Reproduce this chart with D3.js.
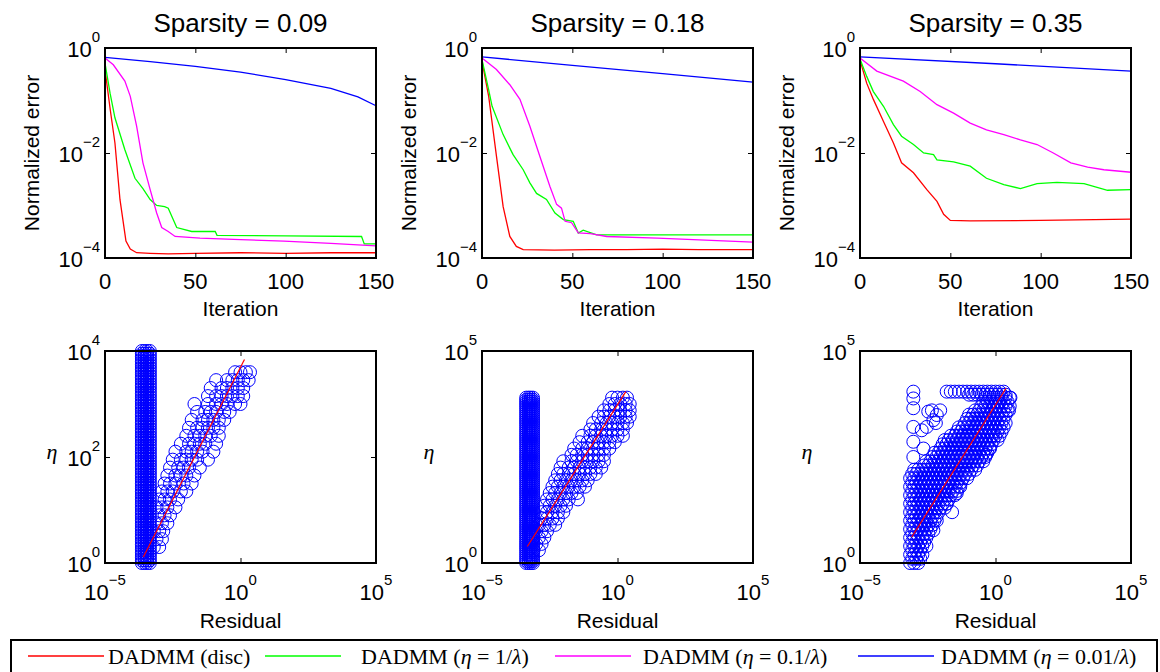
<!DOCTYPE html>
<html>
<head>
<meta charset="utf-8">
<script src="https://cdn.jsdelivr.net/npm/d3@7"></script>
<style>
body { margin: 0; background: #fff; }
svg { display: block; }
</style>
</head>
<body>
<svg id="chart" width="1160" height="672"></svg>
<script>
var sans = "'Liberation Sans', Arial, sans-serif";
var serif = "'Liberation Serif', 'Times New Roman', serif";

var panelLeft = [105, 482, 860];
var plotW = 271;
var topY = 48, topH = 210;
var botY = 351, botH = 212;

var sparsity = ["0.09", "0.18", "0.35"];
var iterTicks = [0, 50, 100, 150];
var errTicks = [1e-4, 1e-2, 1];
var resTicks = [1e-5, 1, 1e5];
var etaTicks = [[1, 1e2, 1e4], [1, 1e5], [1, 1e5]];
var etaMax = [1e4, 1e5, 1e5];

var seriesColors = ["#ff0000", "#00ff00", "#ff00ff", "#0000ff"];
var legendEta = [null, "1", "0.1", "0.01"];
var legendLineX = [28, 265, 555, 858];
var legendTextX = [108, 361, 643, 941];

// ---- convergence curves (iteration, normalized error)
// sparsity 0.09
var it09Disc = [0, 3, 5.5, 8.3, 11.6, 14, 17.5, 25, 35, 50, 75, 100, 125, 150];
var err09Disc = [0.389, 0.063, 0.0155, 0.00129, 0.00021, 0.000148, 0.000126, 0.000123, 0.00012, 0.000123, 0.000126, 0.000123, 0.000126, 0.000126];
var it09Eta1 = [0, 2.8, 5.5, 11, 16.6, 21, 25, 28.6, 33, 35, 39.7, 48, 61, 62, 100, 142, 143.5, 150];
var err09Eta1 = [0.513, 0.138, 0.0468, 0.0115, 0.0033, 0.0021, 0.0013, 0.001, 0.00095, 0.00089, 0.00038, 0.00032, 0.00032, 0.00027, 0.000263, 0.000257, 0.000186, 0.000186];
var it09Eta01 = [0, 4.6, 11, 14, 17.5, 21, 25, 28.6, 31.4, 35, 38.8, 52.6, 75, 99, 125, 150];
var err09Eta01 = [0.646, 0.479, 0.234, 0.120, 0.0324, 0.0065, 0.0020, 0.00072, 0.00038, 0.00032, 0.000257, 0.00024, 0.000224, 0.00021, 0.00019, 0.00017];
var it09Eta001 = [0, 25, 50, 75, 100, 125, 140, 150];
var err09Eta001 = [0.661, 0.550, 0.447, 0.347, 0.251, 0.170, 0.117, 0.0794];

// sparsity 0.18
var it18Disc = [0, 3.7, 8, 11.7, 15.4, 19, 22.8, 40, 60, 80, 100, 120, 150];
var err18Disc = [0.562, 0.120, 0.0087, 0.00095, 0.000257, 0.000166, 0.000145, 0.000141, 0.000145, 0.000145, 0.000148, 0.000145, 0.000145];
var it18Eta1 = [0, 3.7, 5.6, 11.7, 17.2, 22.8, 26.5, 30.2, 35.7, 40.4, 45, 50.5, 53.3, 56, 63.5, 150];
var err18Eta1 = [0.603, 0.16, 0.0776, 0.0224, 0.0093, 0.0048, 0.0027, 0.0017, 0.0013, 0.00072, 0.00054, 0.0005, 0.0003, 0.00034, 0.000275, 0.000275];
var it18Eta01 = [0, 8, 15.4, 21, 26.5, 32, 37.6, 41.3, 44, 46, 49.6, 53.3, 60, 69, 97, 150];
var err18Eta01 = [0.646, 0.389, 0.200, 0.105, 0.0324, 0.0087, 0.0023, 0.00105, 0.00089, 0.0005, 0.00047, 0.0003, 0.00029, 0.000257, 0.00024, 0.0002];
var it18Eta001 = [0, 50, 100, 150];
var err18Eta001 = [0.676, 0.468, 0.324, 0.224];

// sparsity 0.35
var it35Disc = [0, 3.7, 7.4, 13, 18.5, 23, 29.6, 37, 42.6, 46.3, 50, 61, 100, 150];
var err35Disc = [0.589, 0.214, 0.105, 0.0398, 0.0155, 0.0065, 0.0042, 0.0020, 0.0012, 0.00068, 0.00052, 0.00051, 0.00052, 0.00055];
var it35Eta1 = [0, 3.7, 7.4, 13, 18.5, 23, 29.6, 35.2, 40.7, 42.6, 51.8, 61, 70, 79.6, 88.8, 98, 109, 124, 137, 150];
var err35Eta1 = [0.617, 0.288, 0.148, 0.0776, 0.0347, 0.0209, 0.0145, 0.01, 0.0093, 0.0074, 0.0068, 0.0056, 0.0033, 0.0025, 0.0021, 0.0026, 0.00275, 0.0026, 0.00195, 0.0020];
var it35Eta01 = [0, 9.3, 24, 33.3, 42.6, 51.8, 61, 70, 79.6, 88.8, 98, 107, 116.7, 126, 135, 150];
var err35Eta01 = [0.646, 0.363, 0.234, 0.148, 0.0832, 0.0575, 0.0372, 0.0275, 0.0224, 0.0178, 0.0145, 0.01, 0.0065, 0.0054, 0.0048, 0.0043];
var it35Eta001 = [0, 75, 150];
var err35Eta001 = [0.676, 0.501, 0.363];

// ---- eta vs residual scatter
// dense vertical columns: every listed eta at every listed residual
var col09Eta = [1, 1.12, 1.26, 1.41, 1.58, 1.78, 2, 2.24, 2.51, 2.82, 3.16, 3.55, 3.98, 4.47, 5.01, 5.62, 6.31, 7.08, 7.94, 8.91,
  10, 11.2, 12.6, 14.1, 15.8, 17.8, 20, 22.4, 25.1, 28.2, 31.6, 35.5, 39.8, 44.7, 50.1, 56.2, 63.1, 70.8, 79.4, 89.1,
  100, 112, 126, 141, 158, 178, 200, 224, 251, 282, 316, 355, 398, 447, 501, 562, 631, 708, 794, 891,
  1000, 1120, 1260, 1410, 1580, 1780, 2000, 2240, 2510, 2820, 3160, 3550, 3980, 4470, 5010, 5620, 6310, 7080, 7940, 8910, 10000];
var col09Res = [2.3e-4, 2.9e-4, 3.6e-4, 4.5e-4];
var col18Eta = [1, 1.12, 1.26, 1.41, 1.58, 1.78, 2, 2.24, 2.51, 2.82, 3.16, 3.55, 3.98, 4.47, 5.01, 5.62, 6.31, 7.08, 7.94, 8.91,
  10, 11.2, 12.6, 14.1, 15.8, 17.8, 20, 22.4, 25.1, 28.2, 31.6, 35.5, 39.8, 44.7, 50.1, 56.2, 63.1, 70.8, 79.4, 89.1,
  100, 112, 126, 141, 158, 178, 200, 224, 251, 282, 316, 355, 398, 447, 501, 562, 631, 708, 794, 891,
  1000, 1120, 1260, 1410, 1580, 1780, 2000, 2240, 2510, 2820, 3160, 3550, 3980, 4470, 5010, 5620, 6310, 7080, 7940];
var col18Res = [4.3e-4, 5.3e-4, 6.3e-4, 7.6e-4];

// clouds, one row per eta: [eta, [residuals...]]
var sc09Rows = [
  [2, [6.3e-4, 1e-3]],
  [2.82, [7.94e-4, 1.26e-3]],
  [3.98, [6.31e-4, 1e-3, 1.41e-3]],
  [5.62, [7.94e-4, 1.26e-3, 2e-3]],
  [7.94, [1e-3, 1.58e-3, 2.51e-3]],
  [11.2, [7.94e-4, 1.26e-3, 2e-3, 3.98e-3]],
  [15.8, [1e-3, 1.58e-3, 2.51e-3, 5.01e-3]],
  [22.4, [1.26e-3, 2e-3, 3.16e-3, 6.31e-3, 1e-2]],
  [31.6, [1.58e-3, 2.51e-3, 3.98e-3, 7.94e-3, 1.58e-2]],
  [44.7, [2e-3, 3.98e-3, 6.31e-3, 1e-2, 2e-2]],
  [63.1, [2.51e-3, 5.01e-3, 7.94e-3, 1.26e-2, 3.16e-2]],
  [89.1, [3.16e-3, 6.31e-3, 1e-2, 1.58e-2, 2.51e-2, 6.31e-2]],
  [126, [3.98e-3, 1e-2, 1.58e-2, 2.51e-2, 3.98e-2, 0.1]],
  [178, [6.31e-3, 1.26e-2, 2e-2, 3.16e-2, 5.01e-2, 0.126]],
  [251, [1e-2, 2e-2, 3.16e-2, 5.01e-2, 7.94e-2, 0.158]],
  [355, [1.26e-2, 2.51e-2, 3.98e-2, 6.31e-2, 0.1, 0.158]],
  [501, [1.58e-2, 3.98e-2, 6.31e-2, 0.1, 0.158, 0.251]],
  [708, [2.51e-2, 5.01e-2, 7.94e-2, 0.126, 0.251, 0.398]],
  [1000, [2e-2, 6.31e-2, 0.126, 0.2, 0.316, 0.631, 1]],
  [1410, [6.31e-2, 0.126, 0.2, 0.316, 0.501, 0.794, 1.26]],
  [2000, [7.94e-2, 0.2, 0.316, 0.501, 0.794, 1.26]],
  [2820, [0.126, 0.316, 0.501, 0.794, 1.26, 2]],
  [3980, [0.631, 1, 1.58, 2.24]]
];
var sc18Rows = [
  [2, [7.94e-4, 1.26e-3]],
  [2.82, [1e-3, 1.58e-3]],
  [3.98, [7.94e-4, 1.26e-3, 2e-3]],
  [5.62, [1e-3, 1.58e-3, 2.51e-3]],
  [7.94, [1.26e-3, 2e-3, 3.16e-3, 5.01e-3]],
  [11.2, [1.58e-3, 2.51e-3, 3.98e-3, 6.31e-3]],
  [15.8, [1.58e-3, 2.51e-3, 3.98e-3, 6.31e-3, 1e-2]],
  [22.4, [2e-3, 3.16e-3, 5.01e-3, 7.94e-3, 1.26e-2]],
  [31.6, [2.51e-3, 3.98e-3, 6.31e-3, 1e-2, 1.58e-2, 3.47e-2]],
  [44.7, [3.16e-3, 5.01e-3, 7.94e-3, 1.26e-2, 2e-2, 3.16e-2]],
  [63.1, [3.98e-3, 6.31e-3, 1e-2, 1.58e-2, 2.51e-2, 3.98e-2, 6.31e-2]],
  [89.1, [5.01e-3, 7.94e-3, 1.26e-2, 2e-2, 3.16e-2, 5.01e-2, 7.94e-2]],
  [126, [6.31e-3, 1e-2, 1.58e-2, 2.51e-2, 3.98e-2, 6.31e-2, 0.1, 0.158]],
  [178, [7.94e-3, 1.58e-2, 2.51e-2, 3.98e-2, 6.31e-2, 0.1, 0.158, 0.251]],
  [251, [1e-2, 2e-2, 3.16e-2, 5.01e-2, 7.94e-2, 0.126, 0.2, 0.316]],
  [355, [2e-2, 3.16e-2, 5.01e-2, 7.94e-2, 0.126, 0.2, 0.316]],
  [501, [2.51e-2, 5.01e-2, 7.94e-2, 0.126, 0.2, 0.316, 0.501]],
  [708, [3.98e-2, 7.94e-2, 0.126, 0.2, 0.316, 0.501, 0.794]],
  [1000, [5.01e-2, 0.1, 0.158, 0.251, 0.398, 0.631, 1, 1.58]],
  [1410, [0.1, 0.158, 0.251, 0.398, 0.631, 1, 1.58]],
  [2000, [0.126, 0.251, 0.398, 0.631, 1, 1.58, 2.24]],
  [2820, [0.2, 0.316, 0.501, 0.794, 1.26, 2, 2.82]],
  [3980, [0.316, 0.501, 0.794, 1.26, 2, 2.82]],
  [5620, [0.501, 0.794, 1.26, 2, 2.82]],
  [7940, [0.631, 1, 1.58, 2.24]]
];
var sc35Rows = [
  [1, [7.08e-4, 1e-3, 1.41e-3]],
  [1.26, [8.41e-4, 1.19e-3, 1.68e-3]],
  [1.58, [7.08e-4, 1e-3, 1.41e-3, 2e-3]],
  [2, [8.41e-4, 1.19e-3, 1.68e-3]],
  [2.51, [7.08e-4, 1e-3, 1.41e-3, 2e-3, 2.82e-3]],
  [3.16, [8.41e-4, 1.19e-3, 1.68e-3, 2.37e-3]],
  [3.98, [7.08e-4, 1e-3, 1.41e-3, 2e-3, 2.82e-3]],
  [5.01, [8.41e-4, 1.19e-3, 1.68e-3, 2.37e-3, 3.35e-3]],
  [6.31, [7.08e-4, 1e-3, 1.41e-3, 2e-3, 2.82e-3, 3.98e-3]],
  [7.94, [8.41e-4, 1.19e-3, 1.68e-3, 2.37e-3, 3.35e-3, 4.73e-3]],
  [10, [7.08e-4, 1e-3, 1.41e-3, 2e-3, 2.82e-3, 3.98e-3, 5.62e-3]],
  [12.6, [8.41e-4, 1.19e-3, 1.68e-3, 2.37e-3, 3.35e-3, 4.73e-3, 6.68e-3]],
  [15.8, [7.08e-4, 1e-3, 1.41e-3, 2e-3, 2.82e-3, 3.98e-3, 5.62e-3, 7.94e-3]],
  [20, [8.41e-4, 1.19e-3, 1.68e-3, 2.37e-3, 3.35e-3, 4.73e-3, 6.68e-3, 9.44e-3, 1.33e-2]],
  [25.1, [7.08e-4, 1e-3, 1.41e-3, 2e-3, 2.82e-3, 3.98e-3, 5.62e-3, 7.94e-3, 1.12e-2, 1.58e-2]],
  [31.6, [8.41e-4, 1.19e-3, 1.68e-3, 2.37e-3, 3.35e-3, 4.73e-3, 6.68e-3, 9.44e-3, 1.33e-2, 1.88e-2]],
  [39.8, [7.08e-4, 1e-3, 1.41e-3, 2e-3, 2.82e-3, 3.98e-3, 5.62e-3, 7.94e-3, 1.12e-2, 1.58e-2, 2.24e-2, 3.16e-2]],
  [50.1, [8.41e-4, 1.19e-3, 1.68e-3, 2.37e-3, 3.35e-3, 4.73e-3, 6.68e-3, 9.44e-3, 1.33e-2, 1.88e-2, 2.66e-2, 3.76e-2]],
  [63.1, [7.08e-4, 1e-3, 1.41e-3, 2e-3, 2.82e-3, 3.98e-3, 5.62e-3, 7.94e-3, 1.12e-2, 1.58e-2, 2.24e-2, 3.16e-2, 4.47e-2]],
  [79.4, [8.41e-4, 1.19e-3, 1.68e-3, 2.37e-3, 3.35e-3, 4.73e-3, 6.68e-3, 9.44e-3, 1.33e-2, 1.88e-2, 2.66e-2, 3.76e-2, 5.31e-2]],
  [100, [7.08e-4, 1e-3, 1.41e-3, 2e-3, 2.82e-3, 3.98e-3, 5.62e-3, 7.94e-3, 1.12e-2, 1.58e-2, 2.24e-2, 3.16e-2, 4.47e-2, 6.31e-2, 8.91e-2]],
  [126, [8.41e-4, 1.19e-3, 1.68e-3, 2.37e-3, 3.35e-3, 4.73e-3, 6.68e-3, 9.44e-3, 1.33e-2, 1.88e-2, 2.66e-2, 3.76e-2, 5.31e-2, 7.5e-2, 0.106]],
  [158, [1e-3, 1.41e-3, 2e-3, 2.82e-3, 3.98e-3, 5.62e-3, 7.94e-3, 1.12e-2, 1.58e-2, 2.24e-2, 3.16e-2, 4.47e-2, 6.31e-2, 8.91e-2, 0.126, 0.178]],
  [200, [2.37e-3, 3.35e-3, 4.73e-3, 6.68e-3, 9.44e-3, 1.33e-2, 1.88e-2, 2.66e-2, 3.76e-2, 5.31e-2, 7.5e-2, 0.106, 0.15, 0.211]],
  [251, [2.82e-3, 3.98e-3, 5.62e-3, 7.94e-3, 1.12e-2, 1.58e-2, 2.24e-2, 3.16e-2, 4.47e-2, 6.31e-2, 8.91e-2, 0.126, 0.178, 0.251, 0.355]],
  [316, [4.73e-3, 6.68e-3, 9.44e-3, 1.33e-2, 1.88e-2, 2.66e-2, 3.76e-2, 5.31e-2, 7.5e-2, 0.106, 0.15, 0.211, 0.299, 0.422]],
  [398, [5.62e-3, 7.94e-3, 1.12e-2, 1.58e-2, 2.24e-2, 3.16e-2, 4.47e-2, 6.31e-2, 8.91e-2, 0.126, 0.178, 0.251, 0.355, 0.501]],
  [501, [9.44e-3, 1.33e-2, 1.88e-2, 2.66e-2, 3.76e-2, 5.31e-2, 7.5e-2, 0.106, 0.15, 0.211, 0.299, 0.422, 0.596]],
  [631, [1.12e-2, 1.58e-2, 2.24e-2, 3.16e-2, 4.47e-2, 6.31e-2, 8.91e-2, 0.126, 0.178, 0.251, 0.355, 0.501, 0.708]],
  [794, [1.33e-2, 1.88e-2, 2.66e-2, 3.76e-2, 5.31e-2, 7.5e-2, 0.106, 0.15, 0.211, 0.299, 0.422, 0.596, 0.841, 1.19]],
  [1000, [2.24e-2, 3.16e-2, 4.47e-2, 6.31e-2, 8.91e-2, 0.126, 0.178, 0.251, 0.355, 0.501, 0.708, 1, 1.41]],
  [1260, [3.76e-2, 5.31e-2, 7.5e-2, 0.106, 0.15, 0.211, 0.299, 0.422, 0.596, 0.841, 1.19, 1.68]],
  [1580, [4.47e-2, 6.31e-2, 8.91e-2, 0.126, 0.178, 0.251, 0.355, 0.501, 0.708, 1, 1.41, 2]],
  [2000, [7.5e-2, 0.106, 0.15, 0.211, 0.299, 0.422, 0.596, 0.841, 1.19, 1.68, 2.37]],
  [2510, [8.91e-2, 0.126, 0.178, 0.251, 0.355, 0.501, 0.708, 1, 1.41, 2]],
  [3160, [0.106, 0.15, 0.211, 0.299, 0.422, 0.596, 0.841, 1.19, 1.68, 2.37]],
  [3980, [0.178, 0.251, 0.355, 0.501, 0.708, 1, 1.41, 2, 2.82]],
  [5010, [0.299, 0.422, 0.596, 0.841, 1.19, 1.68, 2.37, 3.35]],
  [6310, [0.355, 0.501, 0.708, 1, 1.41, 2, 2.82]],
  [7940, [0.422, 0.596, 0.841, 1.19, 1.68, 2.37, 3.35]],
  [9330, [0.106, 0.15, 0.211, 0.299, 0.422, 0.596, 0.841, 1.19, 1.68, 2.37]],
  [11000, [1.58e-2, 2.24e-2, 3.16e-2, 4.47e-2, 6.31e-2, 8.91e-2, 0.126, 0.178, 0.251, 0.355, 0.501, 0.708, 1, 1.41, 2]]
];
// scattered single circles: [residual, eta]
var sc35Extra = [
  [9.3e-4, 316], [9.3e-4, 724], [9.3e-4, 1620], [9.3e-4, 4470], [9.3e-4, 7600], [9.3e-4, 11000],
  [3.3e-3, 3720], [5.1e-3, 2340], [6.8e-3, 3090], [2.9e-3, 1620], [9.1e-3, 3980], [1.9e-3, 1350],
  [2.2e-3, 501], [4.5e-3, 3980], [6.3e-3, 2000],
  [3.7e-2, 44], [1.58e-2, 25], [6.8e-3, 10], [5.1e-3, 5.9], [2.5e-2, 15.8], [5e-2, 63],
  [0.447, 355], [0.631, 501], [0.794, 1000], [3.16, 3980], [3.55, 7940]
];

// fitted red lines
var fit09Res = [2.6e-4, 1.4], fit09Eta = [1.3, 6900];
var fit18Res = [4.7e-4, 2.03], fit18Eta = [2.45, 11000];
var fit35Res = [8.1e-4, 2.45], fit35Eta = [4.1, 13200];

// ---- build panel tables from the arrays
var curves = [
  [[it09Disc, err09Disc], [it09Eta1, err09Eta1], [it09Eta01, err09Eta01], [it09Eta001, err09Eta001]],
  [[it18Disc, err18Disc], [it18Eta1, err18Eta1], [it18Eta01, err18Eta01], [it18Eta001, err18Eta001]],
  [[it35Disc, err35Disc], [it35Eta1, err35Eta1], [it35Eta01, err35Eta01], [it35Eta001, err35Eta001]]
];
function rowsToPoints(rows) {
  var pts = [];
  rows.forEach(function(r) { r[1].forEach(function(res) { pts.push([res, r[0]]); }); });
  return pts;
}
function columnPoints(etas, ress) {
  var pts = [];
  etas.forEach(function(e) { ress.forEach(function(r) { pts.push([r, e]); }); });
  return pts;
}
var scatters = [
  columnPoints(col09Eta, col09Res).concat(rowsToPoints(sc09Rows)),
  columnPoints(col18Eta, col18Res).concat(rowsToPoints(sc18Rows)),
  rowsToPoints(sc35Rows).concat(sc35Extra)
];
var fits = [[fit09Res, fit09Eta], [fit18Res, fit18Eta], [fit35Res, fit35Eta]];

var svg = d3.select("#chart");
svg.append("rect").attr("width", 1160).attr("height", 672).attr("fill", "#fff");

function supText(sel, v) {
  var e = Math.round(Math.log10(v));
  sel.append("tspan").text("10");
  sel.append("tspan").attr("font-size", 15).attr("dy", -15)
    .text(e < 0 ? "\u2212" + (-e) : String(e));
}

function frame(g, x, y, h, xt, yt) {
  g.append("g").attr("transform", "translate(0," + h + ")")
    .call(d3.axisBottom(x).tickValues(xt).tickSize(-5).tickFormat(""));
  g.append("g").call(d3.axisTop(x).tickValues(xt).tickSize(-5).tickFormat(""));
  g.append("g").call(d3.axisLeft(y).tickValues(yt).tickSize(-5).tickFormat(""));
  g.append("g").attr("transform", "translate(" + plotW + ",0)")
    .call(d3.axisRight(y).tickValues(yt).tickSize(-5).tickFormat(""));
  g.selectAll(".domain").remove();
  g.selectAll(".tick line").attr("stroke", "#000").attr("stroke-width", 1);
  g.append("rect").attr("width", plotW).attr("height", h)
    .attr("fill", "none").attr("stroke", "#000").attr("stroke-width", 2);
}

// ---- top row: convergence
sparsity.forEach(function(sp, p) {
  var g = svg.append("g").attr("transform", "translate(" + panelLeft[p] + "," + topY + ")");
  var x = d3.scaleLinear().domain([0, 150]).range([0, plotW]);
  var y = d3.scaleLog().domain([1e-4, 1]).range([topH, 0]);

  var line = d3.line().x(function(d) { return x(d[0]); }).y(function(d) { return y(d[1]); });
  curves[p].forEach(function(c, k) {
    var pts = c[0].map(function(it, i) { return [it, c[1][i]]; });
    g.append("path").datum(pts).attr("d", line)
      .attr("fill", "none").attr("stroke", seriesColors[k]).attr("stroke-width", 1.3);
  });
  frame(g, x, y, topH, iterTicks, errTicks);

  g.selectAll(".xlab").data(iterTicks).enter().append("text")
    .attr("x", function(d) { return x(d); }).attr("y", topH + 31)
    .attr("text-anchor", "middle").attr("font-family", sans).attr("font-size", 22)
    .text(function(d) { return d; });
  g.selectAll(".ylab").data(errTicks).enter().append("text")
    .attr("x", -5).attr("y", function(d) { return y(d) + 9; })
    .attr("text-anchor", "end").attr("font-family", sans).attr("font-size", 22)
    .each(function(d) { supText(d3.select(this), d); });

  g.append("text").attr("x", plotW / 2).attr("y", -16)
    .attr("text-anchor", "middle").attr("font-family", sans).attr("font-size", 26)
    .text("Sparsity = " + sp);
  g.append("text").attr("x", plotW / 2).attr("y", topH + 58)
    .attr("text-anchor", "middle").attr("font-family", sans).attr("font-size", 21)
    .text("Iteration");
  g.append("text").attr("transform", "translate(-73," + (topH / 2) + ") rotate(-90)")
    .attr("dy", "0.35em").attr("text-anchor", "middle").attr("font-family", sans).attr("font-size", 21)
    .text("Normalized error");
});

// ---- bottom row: eta vs residual
sparsity.forEach(function(sp, p) {
  var g = svg.append("g").attr("transform", "translate(" + panelLeft[p] + "," + botY + ")");
  var x = d3.scaleLog().domain([1e-5, 1e5]).range([0, plotW]);
  var y = d3.scaleLog().domain([1, etaMax[p]]).range([botH, 0]);

  g.selectAll("circle").data(scatters[p]).enter().append("circle")
    .attr("cx", function(d) { return x(d[0]); })
    .attr("cy", function(d) { return y(d[1]); })
    .attr("r", 6.5).attr("fill", "none").attr("stroke", "#0000ff").attr("stroke-width", 1);

  var f = fits[p];
  g.append("line")
    .attr("x1", x(f[0][0])).attr("y1", y(f[1][0]))
    .attr("x2", x(f[0][1])).attr("y2", y(f[1][1]))
    .attr("stroke", "#ff0000").attr("stroke-width", 1.2);

  frame(g, x, y, botH, resTicks, etaTicks[p]);

  g.selectAll(".xlab").data(resTicks).enter().append("text")
    .attr("x", function(d) { return x(d); }).attr("y", botH + 37)
    .attr("text-anchor", "middle").attr("font-family", sans).attr("font-size", 22)
    .each(function(d) { supText(d3.select(this), d); });
  g.selectAll(".ylab").data(etaTicks[p]).enter().append("text")
    .attr("x", -5).attr("y", function(d) { return y(d) + 9; })
    .attr("text-anchor", "end").attr("font-family", sans).attr("font-size", 22)
    .each(function(d) { supText(d3.select(this), d); });

  g.append("text").attr("x", plotW / 2).attr("y", botH + 65)
    .attr("text-anchor", "middle").attr("font-family", sans).attr("font-size", 21)
    .text("Residual");
  g.append("text").attr("x", -53).attr("y", botH / 2 + 2)
    .attr("text-anchor", "middle").attr("font-family", serif).attr("font-style", "italic")
    .attr("font-size", 22).text("\u03b7");
});

// ---- legend
var leg = svg.append("g");
leg.append("rect").attr("x", 11).attr("y", 640).attr("width", 1146).attr("height", 60)
  .attr("fill", "#fff").attr("stroke", "#000").attr("stroke-width", 2);
seriesColors.forEach(function(c, k) {
  leg.append("line").attr("x1", legendLineX[k]).attr("x2", legendLineX[k] + 76)
    .attr("y1", 656).attr("y2", 656)
    .attr("stroke", c).attr("stroke-width", 1.3);
  var t = leg.append("text").attr("x", legendTextX[k]).attr("y", 664)
    .attr("font-family", serif).attr("font-size", 22);
  if (legendEta[k] === null) {
    t.text("DADMM (disc)");
  } else {
    t.append("tspan").text("DADMM (");
    t.append("tspan").attr("font-style", "italic").text("\u03b7");
    t.append("tspan").text(" = " + legendEta[k] + "/");
    t.append("tspan").attr("font-style", "italic").text("\u03bb");
    t.append("tspan").text(")");
  }
});
</script>
</body>
</html>
